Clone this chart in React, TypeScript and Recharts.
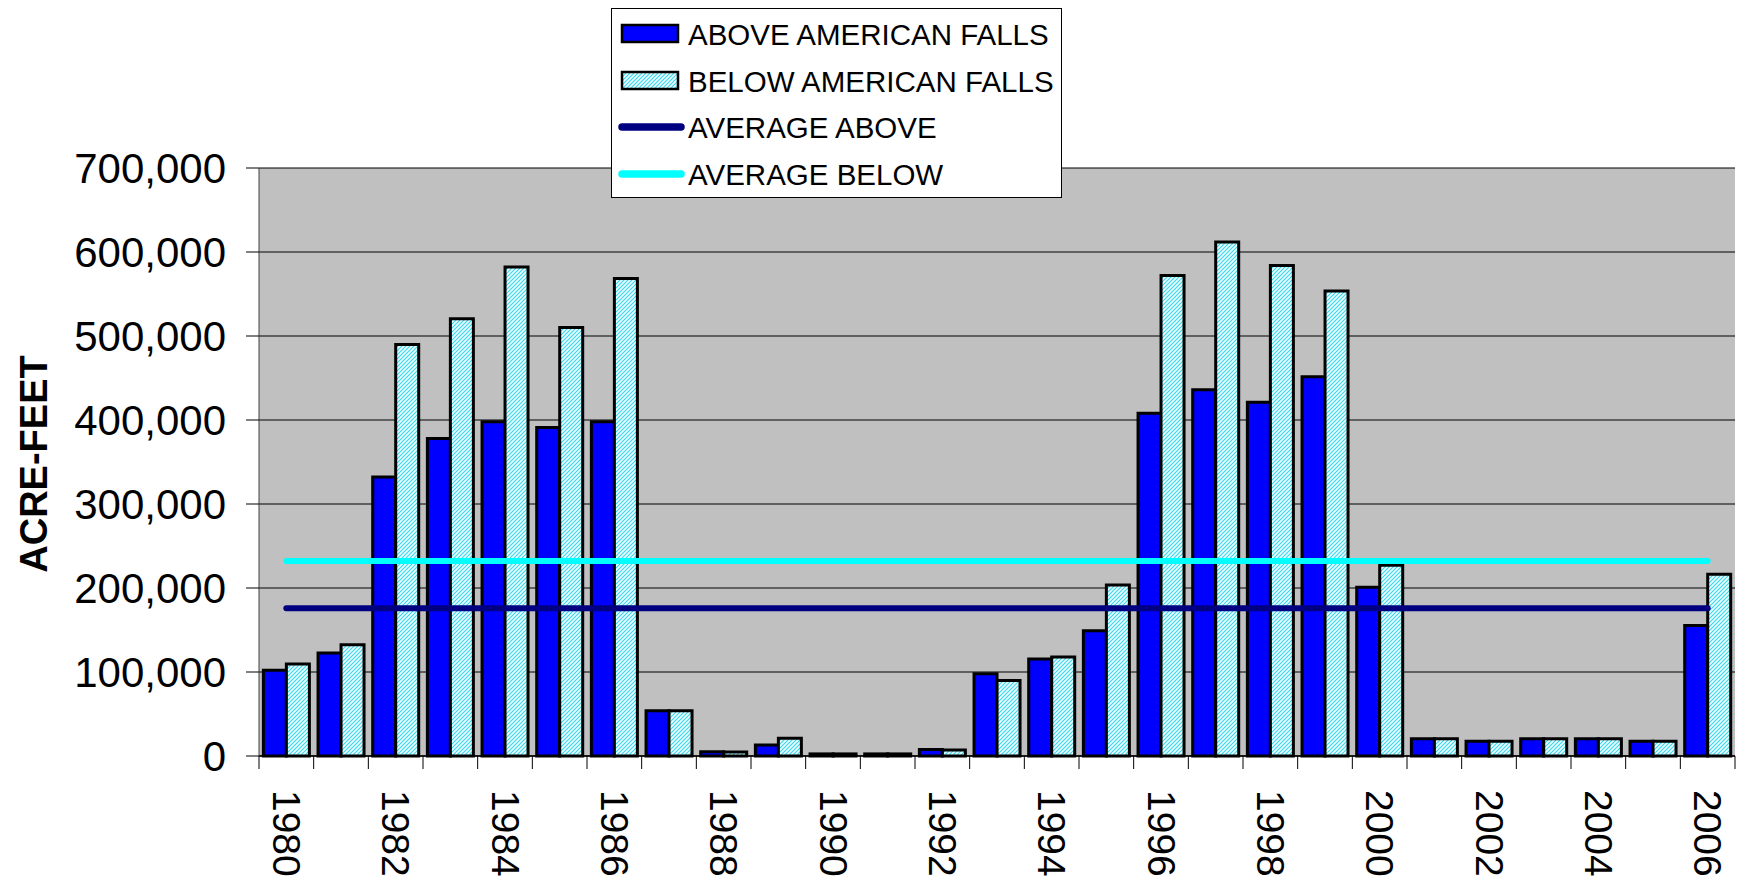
import React from "react";
import {
  ComposedChart,
  Bar,
  Line,
  XAxis,
  YAxis,
  CartesianGrid,
  Legend,
} from "recharts";

const years = [
  "1980", "1981", "1982", "1983", "1984", "1985", "1986", "1987", "1988",
  "1989", "1990", "1991", "1992", "1993", "1994", "1995", "1996", "1997",
  "1998", "1999", "2000", "2001", "2002", "2003", "2004", "2005", "2006",
];

const aboveFalls = [
  102000, 122500, 332000, 378000, 398000, 391000, 398000, 54000, 5200,
  13000, 2500, 2500, 7600, 98000, 115500, 149000, 408000, 436000,
  421000, 451500, 201000, 20500, 17600, 20500, 20500, 17600, 155500,
];

const belowFalls = [
  109500, 132500, 490000, 520500, 582000, 510000, 568500, 54000, 4800,
  21000, 2500, 2500, 7000, 90000, 118000, 203600, 572000, 612000,
  584000, 553500, 227000, 20500, 17600, 20500, 20500, 17600, 216500,
];

const averageAbove = 176000;
const averageBelow = 232000;

const yTicks = [0, 100000, 200000, 300000, 400000, 500000, 600000, 700000];

const data = years.map((year, i) => ({
  year,
  above: aboveFalls[i],
  below: belowFalls[i],
  avgAbove: averageAbove,
  avgBelow: averageBelow,
}));

const FONT = '"Liberation Sans", Arial, sans-serif';
const W = 1737;
const H = 876;
const PLOT_LEFT = 259;
const PLOT_RIGHT = 1735;
const BAND = (PLOT_RIGHT - PLOT_LEFT) / years.length;

const YearTick = (props: any) => {
  const { x, y, payload, index } = props;
  const half = BAND / 2;
  const showLabel = index % 2 === 0;
  const ty = y + 34;
  return (
    <g>
      <line x1={x - half} y1={y} x2={x - half} y2={y + 13} stroke="#000" />
      {index === years.length - 1 && (
        <line x1={x + half} y1={y} x2={x + half} y2={y + 13} stroke="#000" />
      )}
      {showLabel && (
        <text
          x={x}
          y={ty}
          transform={`rotate(90, ${x}, ${ty})`}
          textAnchor="start"
          dominantBaseline="central"
          fontSize={39}
          fontFamily={FONT}
          fill="#000"
        >
          {payload.value}
        </text>
      )}
    </g>
  );
};

const LegendBox = () => {
  const rows = [
    { label: "ABOVE AMERICAN FALLS", kind: "solid" },
    { label: "BELOW AMERICAN FALLS", kind: "hatch" },
    { label: "AVERAGE ABOVE", kind: "lineDark" },
    { label: "AVERAGE BELOW", kind: "lineCyan" },
  ];
  const rowY = [26, 73, 119, 166];
  return (
    <svg width={451} height={190} style={{ display: "block" }}>
      <defs>
        <pattern id="hatchLegend" width="4" height="4" patternUnits="userSpaceOnUse">
          <rect width="4" height="4" fill="#EFFFFF" />
          <path d="M-1,1 l2,-2 M0,4 l4,-4 M3,5 l2,-2" stroke="#3CD6F0" strokeWidth="1.2" />
        </pattern>
      </defs>
      <rect x={0.5} y={0.5} width={450} height={189} fill="#fff" stroke="#000" />
      {rows.map((r, i) => {
        const cy = rowY[i];
        return (
          <g key={r.label}>
            {r.kind === "solid" && (
              <rect x={11} y={cy - 9} width={56} height={17} fill="#0000FF" stroke="#000" strokeWidth={2.5} />
            )}
            {r.kind === "hatch" && (
              <rect x={11} y={cy - 9} width={56} height={17} fill="url(#hatchLegend)" stroke="#000" strokeWidth={2.5} />
            )}
            {r.kind === "lineDark" && (
              <line x1={11} y1={cy} x2={70} y2={cy} stroke="#000080" strokeWidth={7.5} strokeLinecap="round" />
            )}
            {r.kind === "lineCyan" && (
              <line x1={11} y1={cy} x2={70} y2={cy} stroke="#00FFFF" strokeWidth={7.5} strokeLinecap="round" />
            )}
            <text x={77} y={cy} dominantBaseline="central" fontSize={29.5} fontFamily={FONT} fill="#000">
              {r.label}
            </text>
          </g>
        );
      })}
    </svg>
  );
};

const App = () => {
  return (
    <div style={{ position: "absolute", left: 0, top: 0, width: W, height: H, background: "#fff" }}>
      <ComposedChart
        width={W}
        height={H}
        data={data}
        margin={{ top: 168, right: W - PLOT_RIGHT, left: 0, bottom: 0 }}
        barCategoryGap="8%"
        barGap={0}
      >
        <defs>
          <pattern id="hatchBar" width="4" height="4" patternUnits="userSpaceOnUse">
            <rect width="4" height="4" fill="#EFFFFF" />
            <path d="M-1,1 l2,-2 M0,4 l4,-4 M3,5 l2,-2" stroke="#3CD6F0" strokeWidth="1.2" />
          </pattern>
        </defs>
        <CartesianGrid vertical={false} stroke="#000" fill="#C0C0C0" fillOpacity={1} />
        <XAxis
          dataKey="year"
          height={H - 756}
          interval={0}
          tickSize={0}
          tickMargin={0}
          tickLine={false}
          axisLine={{ stroke: "#000", strokeWidth: 1.5 }}
          tick={<YearTick />}
        />
        <YAxis
          width={PLOT_LEFT}
          domain={[0, 700000]}
          ticks={yTicks}
          interval={0}
          tickSize={13}
          tickMargin={20}
          tickLine={{ stroke: "#000" }}
          axisLine={{ stroke: "#404040" }}
          tickFormatter={(v: number) => v.toLocaleString("en-US")}
          tick={{ fill: "#000", fontSize: 42, fontFamily: FONT }}
          label={(p: any) => {
            const vb = p.viewBox || { x: 0, y: 168, height: 588 };
            const cx = vb.x + 34;
            const cy = vb.y + vb.height / 2 + 2;
            return (
              <text
                x={cx}
                y={cy}
                transform={`rotate(-90, ${cx}, ${cy})`}
                textAnchor="middle"
                dominantBaseline="central"
                fontSize={38}
                fontWeight="bold"
                fontFamily={FONT}
                fill="#000"
              >
                ACRE-FEET
              </text>
            );
          }}
        />
        <YAxis
          yAxisId="frame"
          orientation="right"
          width={0}
          domain={[0, 700000]}
          tick={false}
          tickLine={false}
          axisLine={{ stroke: "#808080" }}
        />
        <Bar
          dataKey="above"
          name="ABOVE AMERICAN FALLS"
          fill="#0000FF"
          stroke="#000"
          strokeWidth={3}
          isAnimationActive={false}
        />
        <Bar
          dataKey="below"
          name="BELOW AMERICAN FALLS"
          fill="url(#hatchBar)"
          stroke="#000"
          strokeWidth={3}
          isAnimationActive={false}
        />
        <Line
          dataKey="avgAbove"
          name="AVERAGE ABOVE"
          type="linear"
          stroke="#000080"
          strokeWidth={6}
          strokeLinecap="round"
          dot={false}
          activeDot={false}
          isAnimationActive={false}
        />
        <Line
          dataKey="avgBelow"
          name="AVERAGE BELOW"
          type="linear"
          stroke="#00FFFF"
          strokeWidth={6}
          strokeLinecap="round"
          dot={false}
          activeDot={false}
          isAnimationActive={false}
        />
        <Legend
          layout="vertical"
          verticalAlign="middle"
          align="center"
          content={() => <LegendBox />}
          wrapperStyle={{ top: 8, left: 611, width: 451, height: 190 }}
        />
      </ComposedChart>
    </div>
  );
};

export default App;
